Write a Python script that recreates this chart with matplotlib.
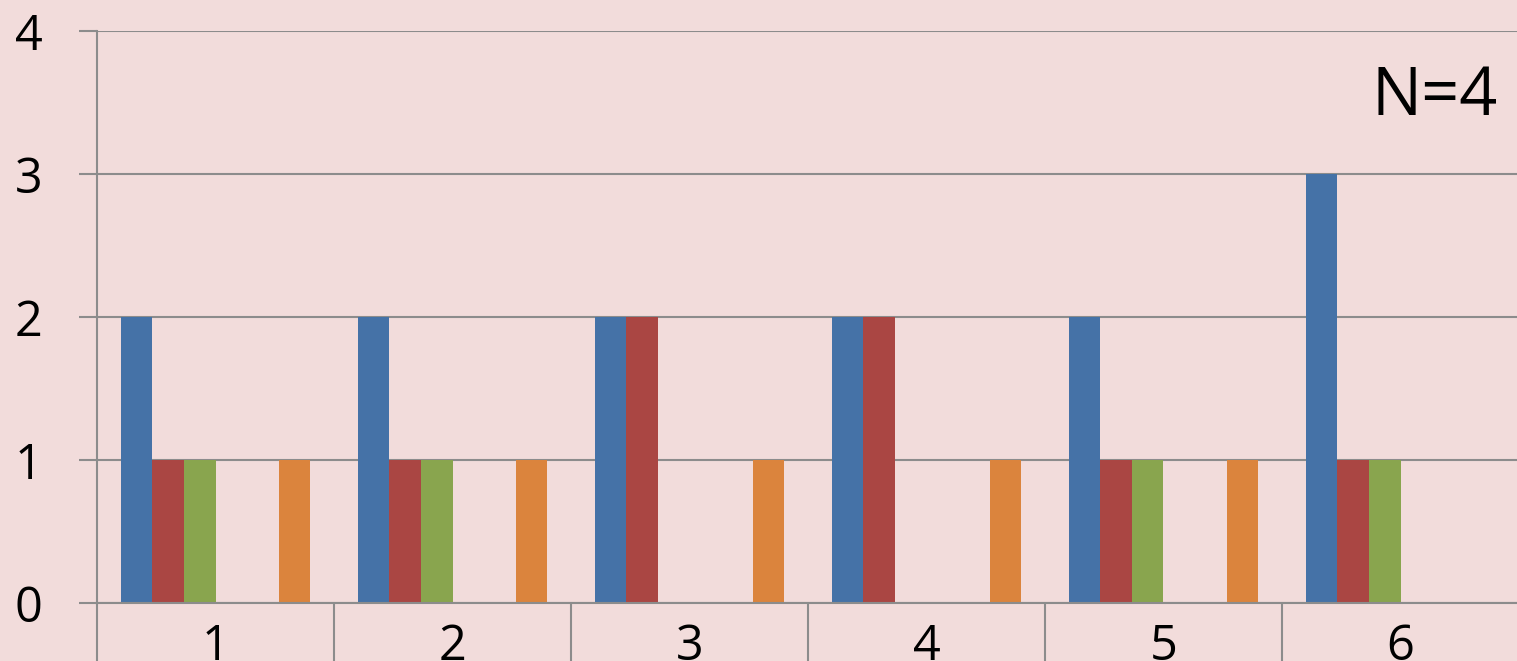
import numpy as np
import matplotlib.pyplot as plt
from matplotlib.ticker import FixedLocator

# Daten
categories = ["1", "2", "3", "4", "5", "6"]
series_names = ["A", "B", "C", "D", "E", "F"]
blue = [2, 2, 2, 2, 2, 3]
red = [1, 1, 2, 2, 1, 1]
green = [1, 1, 0, 0, 1, 1]
purple = [0, 0, 0, 0, 0, 0]
aqua = [0, 0, 0, 0, 0, 0]
orange = [1, 1, 1, 1, 1, 0]
colors = ["#4572A7", "#AA4643", "#89A54E", "#71588F", "#4198AF", "#DB843D"]
note = "N=4"

bg = "#f2dcdb"
grid = "#8c8c8c"
plt.rcParams["font.family"] = ["Open Sans", "DejaVu Sans"]

fig = plt.figure(figsize=(15.17, 6.61), dpi=100, facecolor=bg)
ax = fig.add_axes([97 / 1517, 58 / 661, 1420 / 1517, 572 / 661])
ax.set_facecolor(bg)

x = np.arange(len(categories))
w = 31.6 / 237
for j, vals in enumerate([blue, red, green, purple, aqua, orange]):
    ax.bar(x + (j - 2.5) * w, vals, width=w, color=colors[j], zorder=3,
           label=series_names[j])

ax.set_ylim(0, 4)
ax.set_xlim(-0.5, -0.5 + 1420 / 237)
ax.set_yticks([0, 1, 2, 3, 4])
ax.yaxis.grid(True, color=grid, linewidth=1.5, zorder=0)
ax.tick_params(axis="y", length=13, width=1.5, color=grid, pad=26,
               labelsize=35)

# Kategorietrenner unten, Beschriftung in der Mitte
ax.xaxis.set_major_locator(FixedLocator(np.arange(-0.5, 6.0, 1.0)))
ax.set_xticklabels([])
ax.xaxis.set_minor_locator(FixedLocator(x))
ax.set_xticklabels(categories, minor=True)
ax.tick_params(axis="x", which="major", length=60, width=1.5, color=grid)
ax.tick_params(axis="x", which="minor", length=0, pad=14, labelsize=35)

for s in ["top", "right"]:
    ax.spines[s].set_visible(False)
for s in ["left", "bottom"]:
    ax.spines[s].set_color(grid)
    ax.spines[s].set_linewidth(1.5)
    ax.spines[s].set_zorder(4)

fig.text(1498 / 1517, (661 - 115) / 661, note, ha="right", va="baseline",
         fontsize=48)

fig.savefig("out.png", dpi=100, facecolor=bg)
